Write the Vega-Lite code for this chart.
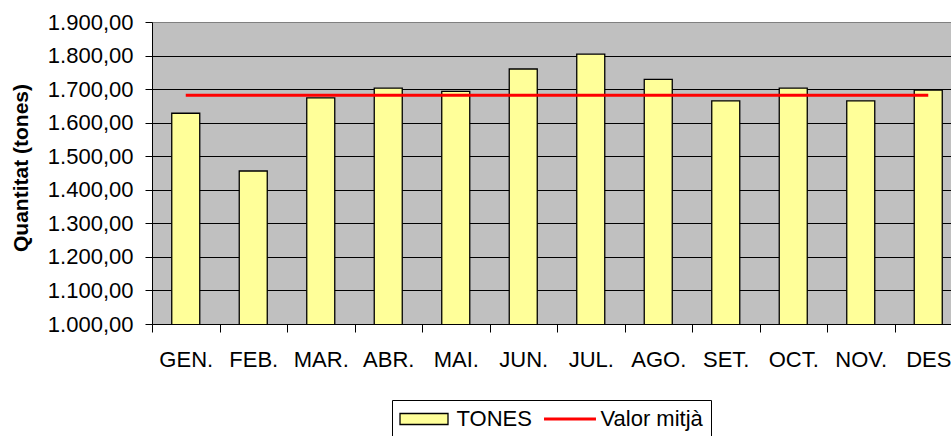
{
  "$schema": "https://vega.github.io/schema/vega-lite/v6.json",
  "width": 799,
  "height": 302,
  "autosize": {"type": "none"},
  "padding": {"left": 152, "top": 22, "right": 0, "bottom": 112},
  "background": "white",
  "config": {
    "locale": {"number": {"decimal": ",", "thousands": ".", "grouping": [3], "currency": ["", " €"]}},
    "view": {"fill": "#C0C0C0", "stroke": null},
    "font": "Liberation Sans",
    "axis": {"labelFont": "Liberation Sans", "titleFont": "Liberation Sans", "labelColor": "#000", "titleColor": "#000"},
    "axisY": {
      "values": [1000, 1100, 1200, 1300, 1400, 1500, 1600, 1700, 1800, 1900],
      "format": ",.2f",
      "grid": true,
      "gridColor": "#000",
      "gridWidth": 1,
      "tickSize": 7,
      "tickColor": "#000",
      "domainColor": "#000",
      "labelFontSize": 22,
      "labelPadding": 12,
      "labelOverlap": false,
      "labelFlush": false,
      "titleFontSize": 21,
      "titleFontWeight": "bold",
      "titleX": -125,
      "titleY": 145.5,
      "titleBaseline": "alphabetic"
    },
    "legend": {
      "orient": "none",
      "legendX": 240,
      "legendY": 378,
      "direction": "horizontal",
      "strokeColor": "#000",
      "fillColor": "white",
      "padding": 8,
      "labelFontSize": 22,
      "labelFont": "Liberation Sans",
      "labelColor": "#000",
      "labelLimit": 400,
      "symbolSize": 144,
      "labelOffset": 34.5,
      "columnPadding": 6
    }
  },
  "data": {
    "values": [
      {"mes": "GEN.", "tones": 1628, "mitja": 1681.42},
      {"mes": "FEB.", "tones": 1456, "mitja": 1681.42},
      {"mes": "MAR.", "tones": 1674, "mitja": 1681.42},
      {"mes": "ABR.", "tones": 1703, "mitja": 1681.42},
      {"mes": "MAI.", "tones": 1693, "mitja": 1681.42},
      {"mes": "JUN.", "tones": 1760, "mitja": 1681.42},
      {"mes": "JUL.", "tones": 1804, "mitja": 1681.42},
      {"mes": "AGO.", "tones": 1729, "mitja": 1681.42},
      {"mes": "SET.", "tones": 1665, "mitja": 1681.42},
      {"mes": "OCT.", "tones": 1703, "mitja": 1681.42},
      {"mes": "NOV.", "tones": 1665, "mitja": 1681.42},
      {"mes": "DES", "tones": 1697, "mitja": 1681.42}
    ]
  },
  "encoding": {
    "x": {
      "field": "mes",
      "type": "nominal",
      "sort": null,
      "scale": {"range": [0, 810], "paddingInner": 0, "paddingOuter": 0},
      "axis": {
        "title": null,
        "labelAngle": 0,
        "tickBand": "extent",
        "ticks": true,
        "tickSize": 8,
        "tickColor": "#000",
        "domainColor": "#000",
        "labelFontSize": 22,
        "labelPadding": 17,
        "labelOverlap": false,
        "grid": false
      }
    },
    "stroke": {
      "type": "nominal",
      "scale": {"domain": ["TONES", "Valor mitjà"], "range": ["#000000", "#FF0000"]},
      "legend": {
        "title": null,
        "encode": {
          "symbols": {
            "update": {
              "x": {"signal": "datum.value === 'TONES' ? 24 : 26"},
              "shape": {"signal": "datum.value === 'TONES' ? 'M-4,-0.917H4V0.917H-4Z' : 'M-4.33,0H4.33'"},
              "fill": {"signal": "datum.value === 'TONES' ? '#FFFF99' : 'transparent'"},
              "strokeWidth": {"signal": "datum.value === 'TONES' ? 1.3 : 3"},
              "opacity": {"value": 1}
            }
          }
        }
      }
    }
  },
  "layer": [
    {
      "mark": {"type": "bar", "fill": "#FFFF99", "strokeWidth": 1.3, "width": {"band": 0.415}, "clip": true},
      "encoding": {
        "y": {
          "field": "tones",
          "type": "quantitative",
          "title": "Quantitat (tones)",
          "scale": {"domain": [1000, 1900], "nice": false, "zero": false},
          "axis": {"gridColor": {"condition": {"test": "datum.value === 1900", "value": "#808080"}, "value": "#000"}}
        },
        "stroke": {"datum": "TONES"}
      }
    },
    {
      "mark": {"type": "line", "strokeWidth": 3},
      "encoding": {
        "y": {"field": "mitja", "type": "quantitative", "title": "Quantitat (tones)"},
        "stroke": {"datum": "Valor mitjà"}
      }
    }
  ]
}
